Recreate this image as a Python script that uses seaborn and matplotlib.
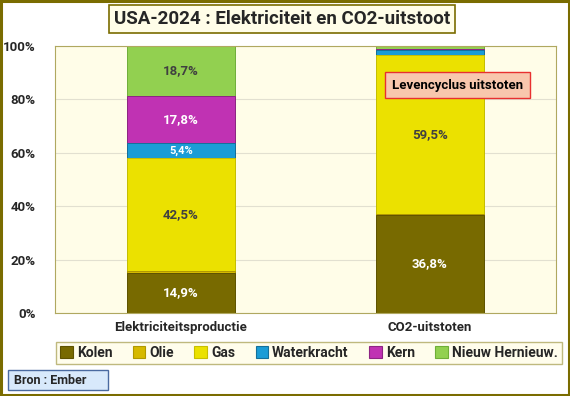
import pandas as pd
import numpy as np
import matplotlib
matplotlib.use("Agg")
import matplotlib.pyplot as plt
import seaborn as sns
from matplotlib.patches import Rectangle, Patch

# Data (percent shares)
categories = ["Elektriciteitsproductie", "CO2-uitstoten"]
sources = ["Kolen", "Olie", "Gas", "Waterkracht", "Kern", "Nieuw Hernieuw."]
elec = [14.9, 0.7, 42.5, 5.4, 17.8, 18.7]
co2 = [36.8, 0.3, 59.5, 1.8, 0.3, 1.3]
elec_labels = ["14,9%", "", "42,5%", "5,4%", "17,8%", "18,7%"]
co2_labels = ["36,8%", "", "59,5%", "", "", ""]

colors = ["#786a00", "#d6b900", "#ebe100", "#1a9cd6", "#c032b3", "#92d050"]
edges = ["#5e5300", "#b09800", "#c8bf00", "#14709a", "#8e2484", "#6fae38"]
label_colors = ["white", "white", "#404040", "white", "white", "#404040"]

df = pd.DataFrame({"Elektriciteitsproductie": elec, "CO2-uitstoten": co2}, index=sources)
cum = df.cumsum()

sns.set_style("white")
plt.rcParams["font.family"] = ["Roboto", "DejaVu Sans"]
plt.rcParams["font.weight"] = "bold"

fig = plt.figure(figsize=(5.7, 3.96), dpi=100)
fig.patch.set_facecolor("white")
ax = fig.add_axes([55 / 570, 1 - 313 / 396, 501 / 570, 267 / 396])
ax.set_facecolor("#fffde8")

# draw stacked bars from the top layer down
for i in range(len(sources) - 1, -1, -1):
    s = sources[i]
    d = pd.DataFrame({"cat": categories, "top": cum.loc[s, categories].values})
    sns.barplot(data=d, x="cat", y="top", color=colors[i], width=0.43,
                saturation=1, ax=ax, zorder=2, edgecolor=edges[i], linewidth=0.7)

for i, s in enumerate(sources):
    for j, cat in enumerate(categories):
        lab = (elec_labels if j == 0 else co2_labels)[i]
        if lab:
            mid = cum.loc[s, cat] - df.loc[s, cat] / 2
            fs = 8 if s == "Waterkracht" else 9.5
            ax.text(j, mid, lab, ha="center", va="center", color=label_colors[i],
                    fontsize=fs, fontweight="bold", zorder=5)

ax.set_xlim(-0.506, 1.506)
ax.set_ylim(0, 100)
ax.set_yticks(np.arange(0, 101, 20))
ax.set_yticklabels([f"{v}%" for v in range(0, 101, 20)], fontsize=9.5, fontweight="bold")
ax.set_xticks([0, 1])
ax.set_xticklabels(categories, fontsize=9.5, fontweight="bold")
ax.set_xlabel("")
ax.set_ylabel("")
ax.yaxis.grid(True, color="#e2e0d0", linewidth=0.8, zorder=0)
ax.set_axisbelow(True)
ax.tick_params(axis="y", pad=14, length=0)
ax.tick_params(axis="x", pad=6, length=0)
for sp in ax.spines.values():
    sp.set_color("#b0a860")
    sp.set_linewidth(0.8)

# annotation box
ax.text(1.11, 85.3, "Levencyclus uitstoten", ha="center", va="center", fontsize=9.5,
        fontweight="bold", color="black", zorder=6,
        bbox=dict(boxstyle="square,pad=0.5", fc="#f8c7ad", ec="#e83030", lw=1))

# title
fig.text(282 / 570, 1 - 19 / 396, "USA-2024 : Elektriciteit en CO2-uitstoot", ha="center",
         va="center", fontsize=13.5, fontweight="bold",
         bbox=dict(boxstyle="square,pad=0.25", fc="#fffde8", ec="#7a6c00", lw=1.2))

# legend
handles = [Patch(facecolor=c, edgecolor=e, linewidth=0.8, label=s)
           for c, e, s in zip(colors, edges, sources)]
leg = fig.legend(handles=handles, loc="lower left", ncol=6, fontsize=10, mode="expand",
                 bbox_to_anchor=(56 / 570, 1 - 364 / 396, 506 / 570, 22 / 396),
                 frameon=True, fancybox=False,
                 handlelength=0.9, handleheight=0.9, handletextpad=0.3, columnspacing=1.0,
                 borderpad=0.3, borderaxespad=0)
leg.get_frame().set_facecolor("#fffde8")
leg.get_frame().set_edgecolor("#b0a860")
leg.get_frame().set_linewidth(1)

# source box
fig.patches.append(Rectangle((8 / 570, 1 - 390 / 396), 100 / 570, 20 / 396,
                             transform=fig.transFigure, fc="#d8e9fb", ec="#4a6aa0", lw=1))
fig.text(14 / 570, 1 - 380 / 396, "Bron : Ember", ha="left", va="center", fontsize=9,
         fontweight="bold")

# outer border
fig.patches.append(Rectangle((0.002, 0.003), 0.996, 0.994, transform=fig.transFigure,
                             fill=False, ec="#7a6c00", lw=2.2))

fig.savefig("out.png", dpi=100)
